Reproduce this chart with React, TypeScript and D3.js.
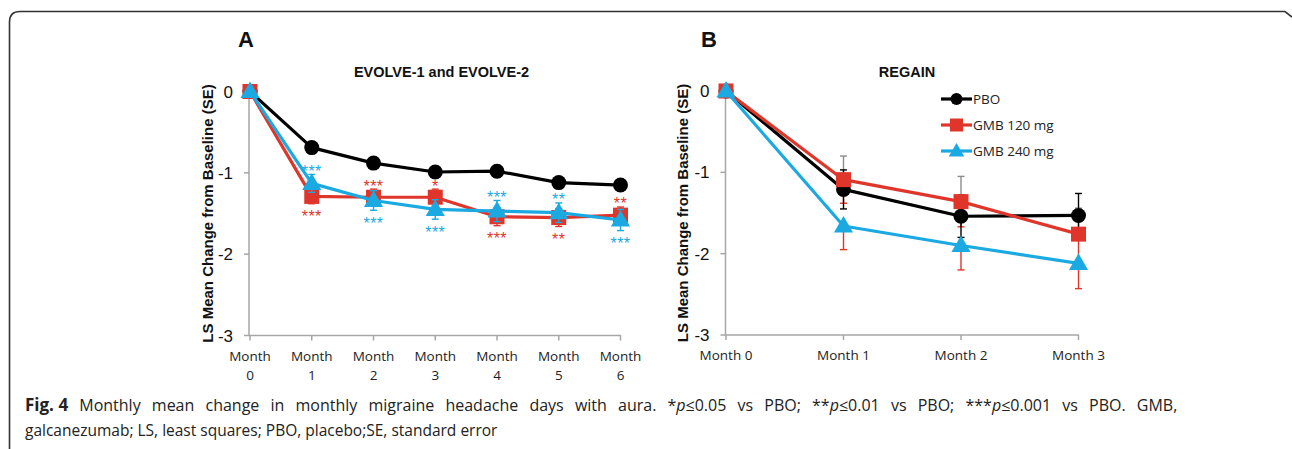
import React from "react";
import * as d3 from "d3";

// ---------- Data ----------
const monthsA = ["0", "1", "2", "3", "4", "5", "6"];
const pboA = [0, -0.69, -0.88, -0.99, -0.98, -1.12, -1.15];
const pboASE = [0, 0.06, 0.06, 0.07, 0.07, 0.07, 0.07];
const gmb120A = [0, -1.29, -1.30, -1.30, -1.54, -1.55, -1.52];
const gmb120ASE = [0, 0.09, 0.10, 0.10, 0.11, 0.11, 0.10];
const gmb240A = [0, -1.13, -1.34, -1.45, -1.47, -1.49, -1.58];
const gmb240ASE = [0, 0.11, 0.12, 0.12, 0.13, 0.12, 0.13];
const stars120A = ["", "***", "***", "*", "***", "**", "**"];
const starsPos120A = ["", "below", "above", "above", "below", "below", "above"];
const stars240A = ["", "***", "***", "***", "***", "**", "***"];
const starsPos240A = ["", "above", "below", "below", "above", "above", "below"];

const monthsB = ["Month 0", "Month 1", "Month 2", "Month 3"];
const pboB = [0, -1.21, -1.54, -1.53];
const pboBSE = [0, 0.24, 0.26, 0.27];
const gmb120B = [0, -1.09, -1.36, -1.76];
const gmb120BSE = [0, 0.29, 0.31, 0.32];
const gmb240B = [0, -1.66, -1.90, -2.12];
const gmb240BSE = [0, 0.29, 0.30, 0.31];

const yTicks = [0, -1, -2, -3];
const legendLabels = ["PBO", "GMB 120 mg", "GMB 240 mg"];

// ---------- Styles ----------
const BLACK = "#000000";
const RED = "#e0352b";
const CYAN = "#1ba9e1";
const GREY = "#8c8c8c";
const AXIS = "#a6a6a6";
const ARIAL = "Liberation Sans, Arial, sans-serif";
const CAL = "Open Sans, sans-serif";

type Shape = "circle" | "square" | "triangle";

function Marker({ x, y, shape, color, size }: { x: number; y: number; shape: Shape; color: string; size: number }) {
  if (shape === "circle") return <circle cx={x} cy={y} r={size / 2} fill={color} />;
  if (shape === "square")
    return <rect x={x - size / 2} y={y - size / 2} width={size} height={size} fill={color} />;
  const p = d3.symbol(d3.symbolTriangle, size * size * 0.62)();
  return <path d={p || ""} transform={`translate(${x},${y + 1})`} fill={color} />;
}

function ErrBar({ x, y0, y1, color, cap = 3.5 }: { x: number; y0: number; y1: number; color: string; cap?: number }) {
  return (
    <g stroke={color} strokeWidth={1.4}>
      <line x1={x} x2={x} y1={y0} y2={y1} />
      <line x1={x - cap} x2={x + cap} y1={y1} y2={y1} />
    </g>
  );
}

function YAxis({ x, y, label, labelX }: { x: number; y: d3.ScaleLinear<number, number>; label: string; labelX: number }) {
  return (
    <g>
      <line x1={x} x2={x} y1={y(0)} y2={y(-3)} stroke={AXIS} strokeWidth={1.5} />
      {yTicks.map((t) => (
        <g key={t}>
          <line x1={x - 5} x2={x} y1={y(t)} y2={y(t)} stroke={AXIS} strokeWidth={1.5} />
          <text x={x - 16} y={y(t) + 6} textAnchor="end" fontFamily={ARIAL} fontSize={17} fill="#111">
            {t === 0 ? "0" : String(t)}
          </text>
        </g>
      ))}
      <text
        transform={`translate(${labelX},${(y(0) + y(-3)) / 2}) rotate(-90)`}
        textAnchor="middle"
        fontFamily={ARIAL}
        fontWeight="bold"
        fontSize={15}
        fill="#111"
      >
        {label}
      </text>
    </g>
  );
}

export default function App() {
  // Panel A scales
  const xA = d3.scalePoint<string>().domain(monthsA).range([250, 620.5]);
  const yA = d3.scaleLinear().domain([0, -3]).range([91.5, 335.5]);
  // Panel B scales
  const xB = d3.scalePoint<string>().domain(monthsB).range([726, 1078.5]);
  const yB = d3.scaleLinear().domain([0, -3]).range([91, 335]);

  const lineA = (vals: number[]) =>
    d3.line<number>().x((_, i) => xA(monthsA[i])!).y((v) => yA(v))(vals) || "";
  const lineB = (vals: number[]) =>
    d3.line<number>().x((_, i) => xB(monthsB[i])!).y((v) => yB(v))(vals) || "";

  const seriesA = [
    { vals: pboA, se: pboASE, color: BLACK, shape: "circle" as Shape, size: 15 },
    { vals: gmb120A, se: gmb120ASE, color: RED, shape: "square" as Shape, size: 15 },
    { vals: gmb240A, se: gmb240ASE, color: CYAN, shape: "triangle" as Shape, size: 16 },
  ];

  const starsA = [
    { labels: stars120A, pos: starsPos120A, vals: gmb120A, se: gmb120ASE, color: RED },
    { labels: stars240A, pos: starsPos240A, vals: gmb240A, se: gmb240ASE, color: CYAN },
  ];

  const seriesB = [
    { vals: pboB, se: pboBSE, color: BLACK, shape: "circle" as Shape, size: 15 },
    { vals: gmb120B, se: gmb120BSE, color: RED, shape: "square" as Shape, size: 15 },
    { vals: gmb240B, se: gmb240BSE, color: CYAN, shape: "triangle" as Shape, size: 16 },
  ];

  return (
    <svg
      width={1292}
      height={449}
      style={{ position: "absolute", left: 0, top: 0, background: "#fff" }}
    >
      <rect width={1292} height={449} fill="#fff" />
      {/* frame */}
      <path
        d="M9.5,449 L9.5,22 Q9.5,11.5 20,11.5 L1285,11.5 L1292,17"
        fill="none"
        stroke="#333"
        strokeWidth={1.6}
      />

      {/* ---------------- Panel A ---------------- */}
      <text x={238} y={47} fontFamily={ARIAL} fontWeight="bold" fontSize={22} fill="#111">A</text>
      <text x={441.5} y={77} textAnchor="middle" fontFamily={ARIAL} fontWeight="bold" fontSize={14.5} fill="#111">
        EVOLVE-1 and EVOLVE-2
      </text>
      <YAxis x={249} y={yA} label="LS Mean Change from Baseline (SE)" labelX={213} />
      <line x1={249} x2={621} y1={yA(-3)} y2={yA(-3)} stroke={AXIS} strokeWidth={1.5} />
      {monthsA.map((m) => (
        <g key={m}>
          <line x1={xA(m)} x2={xA(m)} y1={yA(-3)} y2={yA(-3) + 5} stroke={AXIS} strokeWidth={1.5} />
          <text x={xA(m)} y={361} textAnchor="middle" fontFamily={CAL} fontSize={13.5} fill="#222">Month</text>
          <text x={xA(m)} y={380} textAnchor="middle" fontFamily={CAL} fontSize={13.5} fill="#222">{m}</text>
        </g>
      ))}
      {seriesA.map((s, si) => (
        <g key={si}>
          {s.vals.map((v, i) =>
            i === 0 ? null : (
              <g key={i}>
                <ErrBar x={xA(monthsA[i])!} y0={yA(v)} y1={yA(v + s.se[i])} color={s.color} />
                <ErrBar x={xA(monthsA[i])!} y0={yA(v)} y1={yA(v - s.se[i])} color={s.color} />
              </g>
            )
          )}
          <path d={lineA(s.vals)} fill="none" stroke={s.color} strokeWidth={3.2} strokeLinejoin="round" />
          {s.vals.map((v, i) => (
            <Marker key={i} x={xA(monthsA[i])!} y={yA(v)} shape={s.shape} color={s.color} size={s.size} />
          ))}
        </g>
      ))}
      {starsA.map((s, si) =>
        s.labels.map((lab, i) => {
          if (!lab) return null;
          const above = s.pos[i] === "above";
          const c = above ? yA(s.vals[i] + s.se[i]) - 7 : yA(s.vals[i] - s.se[i]) + 9;
          return (
            <text
              key={`${si}-${i}`}
              x={xA(monthsA[i])}
              y={c + 9.5}
              textAnchor="middle"
              fontFamily={ARIAL}
              fontSize={16}
              letterSpacing={0.5}
              fill={s.color}
            >
              {lab}
            </text>
          );
        })
      )}

      {/* ---------------- Panel B ---------------- */}
      <text x={701} y={47} fontFamily={ARIAL} fontWeight="bold" fontSize={22} fill="#111">B</text>
      <text x={907} y={77} textAnchor="middle" fontFamily={ARIAL} fontWeight="bold" fontSize={14.5} fill="#111">
        REGAIN
      </text>
      <YAxis x={725.5} y={yB} label="LS Mean Change from Baseline (SE)" labelX={688} />
      <line x1={725.5} x2={1079} y1={yB(-3)} y2={yB(-3)} stroke={AXIS} strokeWidth={1.5} />
      {monthsB.map((m) => (
        <g key={m}>
          <line x1={xB(m)} x2={xB(m)} y1={yB(-3)} y2={yB(-3) + 5} stroke={AXIS} strokeWidth={1.5} />
          <text x={xB(m)} y={360} textAnchor="middle" fontFamily={CAL} fontSize={13.5} fill="#222">{m}</text>
        </g>
      ))}
      {/* error bars B */}
      {monthsB.map((m, i) =>
        i === 0 ? null : (
          <g key={m}>
            <ErrBar x={xB(m)!} y0={yB(gmb120B[i])} y1={yB(gmb120B[i] + gmb120BSE[i])} color={GREY} />
            <ErrBar x={xB(m)!} y0={yB(gmb240B[i])} y1={yB(gmb240B[i] - gmb240BSE[i])} color={RED} />
            <ErrBar x={xB(m)!} y0={yB(gmb120B[i])} y1={yB(gmb120B[i] - gmb120BSE[i])} color={RED} />
            <ErrBar x={xB(m)!} y0={yB(pboB[i])} y1={yB(pboB[i] + pboBSE[i])} color={BLACK} />
            <ErrBar x={xB(m)!} y0={yB(pboB[i])} y1={yB(pboB[i] - pboBSE[i])} color={BLACK} />
          </g>
        )
      )}
      {seriesB.map((s, si) => (
        <g key={si}>
          <path d={lineB(s.vals)} fill="none" stroke={s.color} strokeWidth={3.2} strokeLinejoin="round" />
          {s.vals.map((v, i) => (
            <Marker key={i} x={xB(monthsB[i])!} y={yB(v)} shape={s.shape} color={s.color} size={s.size} />
          ))}
        </g>
      ))}
      {/* legend */}
      {legendLabels.map((lab, i) => {
        const s = seriesB[i];
        const ly = 99 + i * 26;
        return (
          <g key={lab}>
            <line x1={941} x2={972} y1={ly} y2={ly} stroke={s.color} strokeWidth={3.2} />
            <Marker x={956.5} y={ly} shape={s.shape} color={s.color} size={s.shape === "circle" ? 12 : 13} />
            <text x={973} y={ly + 5} fontFamily={CAL} fontSize={13.5} fill="#222">{lab}</text>
          </g>
        );
      })}

      {/* ---------------- Caption ---------------- */}
      <text x={25} y={411} fontFamily={CAL} fontSize={16} fill="#222">
        <tspan fontWeight="bold" fontSize={17}>Fig. 4</tspan>
        <tspan wordSpacing={7}> Monthly mean change in monthly migraine headache days with aura. *</tspan>
        <tspan fontStyle="italic">p</tspan>
        <tspan wordSpacing={7}>≤0.05 vs PBO; **</tspan>
        <tspan fontStyle="italic">p</tspan>
        <tspan wordSpacing={7}>≤0.01 vs PBO; ***</tspan>
        <tspan fontStyle="italic">p</tspan>
        <tspan wordSpacing={7}>≤0.001 vs PBO. GMB,</tspan>
      </text>
      <text x={25} y={436} fontFamily={CAL} fontSize={15.5} fill="#222">
        galcanezumab; LS, least squares; PBO, placebo;SE, standard error
      </text>
    </svg>
  );
}
